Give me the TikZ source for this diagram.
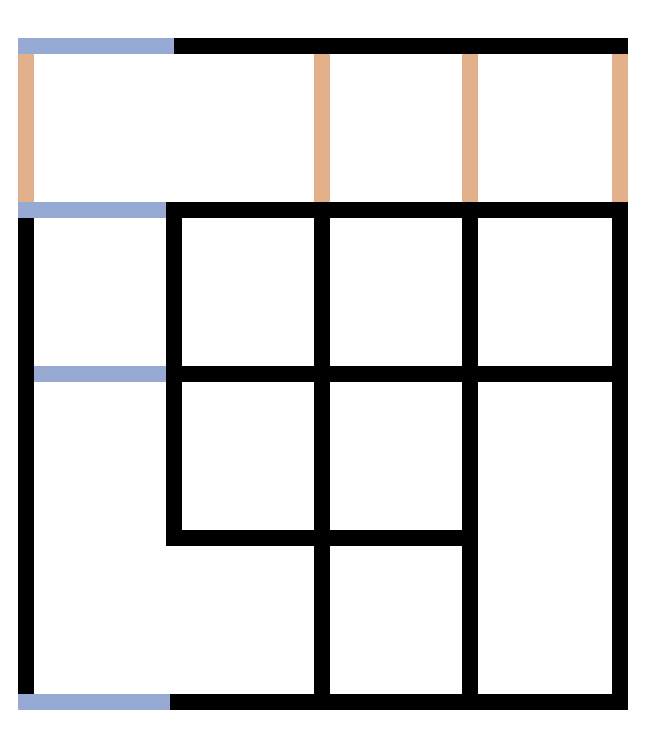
\documentclass[tikz,border=0pt]{standalone}
\usepackage{xcolor}
\usepackage{tikz}

\definecolor{edgeblue}{RGB}{150,170,212}
\definecolor{edgeorange}{RGB}{226,177,140}

\begin{document}
\begin{tikzpicture}[x = 0.02cm, y = -0.02cm, line width = 0.32cm, line cap = butt]
	\def\xa{26};
	\def\xb{174};
	\def\xc{322};
	\def\xd{470};
	\def\xe{620};
	\def\ya{46};
	\def\yb{210};
	\def\yc{374};
	\def\yd{538};
	\def\ye{702};
	\def\h{8};

	\useasboundingbox (0,0) rectangle (654,730);

	\begin{scope}[edgeblue]
		\draw (\xa-\h,\ya) -- (\xb,\ya);
		\draw (\xa-\h,\yb) -- (\xb-\h,\yb);
		\draw (\xa+\h,\yc) -- (\xb-\h,\yc);
		\draw (\xa-\h,\ye) -- (\xb-4,\ye);
	\end{scope}

	\begin{scope}[edgeorange]
		\foreach \x in {\xa,\xc,\xd,\xe}
		{
			\draw (\x,\ya+\h) -- (\x,\yb-\h);
		}
	\end{scope}

	\begin{scope}[black]
		\draw (\xb,\ya) -- (\xe+\h,\ya);
		\draw (\xb-\h,\yb) -- (\xe+\h,\yb);
		\draw (\xb-\h,\yc) -- (\xe,\yc);
		\draw (\xb-\h,\yd) -- (\xd,\yd);
		\draw (\xb-4,\ye) -- (\xe+\h,\ye);

		\draw (\xa,\yb+\h) -- (\xa,\ye-\h);
		\draw (\xb,\yb-\h) -- (\xb,\yd+\h);
		\foreach \x in {\xc,\xd}
		{
			\draw (\x,\yb-\h) -- (\x,\ye);
		}
		\draw (\xe,\yb-\h) -- (\xe,\ye+\h);
	\end{scope}
\end{tikzpicture}
\end{document}
